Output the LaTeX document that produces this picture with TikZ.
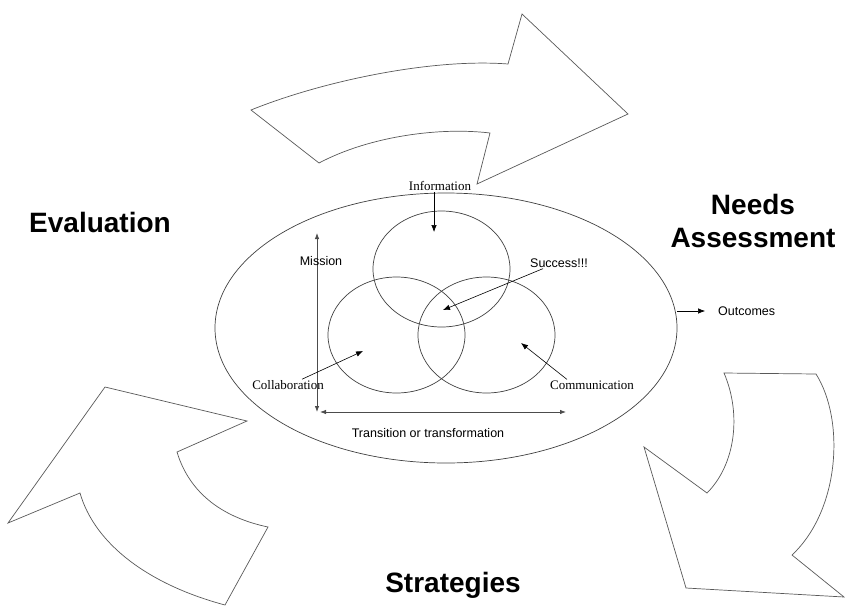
\documentclass[tikz,border=0pt]{standalone}
\usepackage{fontspec}
\setmainfont{Liberation Sans}
\newfontfamily\serifface{Liberation Serif}
\usetikzlibrary{arrows.meta, shapes.geometric}

\begin{document}
\begin{tikzpicture}[
    x=1pt, y=-1pt,
    bigarrow/.style={draw=black!65, line width=0.7pt, fill=white, line join=miter},
    ring/.style={ellipse, draw=black!75, line width=0.7pt, inner sep=0pt},
    venn/.style={ring, minimum width=137pt, minimum height=116pt},
    lbl/.style={font=\fontsize{12.5}{14}\selectfont, inner sep=1pt},
    slbl/.style={font=\serifface\fontsize{13}{15}\selectfont, inner sep=1pt},
    biglbl/.style={font=\bfseries\fontsize{28}{33}\selectfont, align=center},
    ptr/.style={-{Latex[length=7pt, width=5.5pt]}, line width=0.6pt},
    axis/.style={{Latex[length=6pt, width=4.5pt]}-{Latex[length=6pt, width=4.5pt]},
      draw=black!70, line width=0.8pt}
  ]
  \useasboundingbox (0,0) rectangle (845,608);

  % cycle arrows
  \draw[bigarrow] (251,110) .. controls (320,82) and (430,58) .. (508,64)
    -- (522,14) -- (628,114) -- (477,184) -- (490,133)
    .. controls (440,127) and (370,136) .. (319,163) -- cycle;
  \draw[bigarrow] (724,373) -- (816,374) .. controls (845,420) and (840,510) .. (792,555)
    -- (844,597) -- (686,588) -- (644,447) -- (707,493)
    .. controls (735,465) and (742,415) .. (724,373) -- cycle;
  \draw[bigarrow] (8,523) -- (105,387) -- (247,421) -- (177,452)
    .. controls (190,495) and (225,518) .. (268,527) -- (225,605)
    .. controls (150,585) and (95,545) .. (80,493) -- cycle;

  \node[biglbl] (evaluation) at (100,222) {Evaluation};
  \node[biglbl] (needs) at (753,221) {Needs\\Assessment};
  \node[biglbl] (strategies) at (453,585) {Strategies};

  % ellipse and venn circles
  \node[ring, minimum width=462pt, minimum height=270pt] (outer) at (446,328) {};
  \node[venn] (infoc) at (441.5,269) {};
  \node[venn] (collabc) at (396.5,335) {};
  \node[venn] (commc) at (486.5,335) {};

  % axes
  \coordinate (origin) at (317,412);
  \coordinate (ytop) at (317,233);
  \coordinate (xend) at (566,412);
  \draw[axis] (ytop) -- (origin);
  \draw[axis] ([xshift=3pt]origin) -- (xend);
  \node[lbl] (mission) at (321,261) {Mission};
  \node[lbl] (transition) at (428,433) {Transition or transformation};

  % labels and pointers
  \node[slbl] (info) at (440,186) {Information};
  \node[lbl] (success) at (559,263) {Success!!!};
  \node[slbl] (collab) at (288,385) {Collaboration};
  \node[slbl] (comm) at (592,385) {Communication};
  \node[lbl, anchor=west] (outcomes) at (717,311) {Outcomes};

  \coordinate (infotip) at (434,232);
  \coordinate (successtip) at (443,310);
  \coordinate (collabtip) at (363,351);
  \coordinate (commtip) at (521,343);

  \draw[ptr] (info.south -| infotip) -- (infotip);
  \draw[ptr] ([xshift=-16pt]success.south) -- (successtip);
  \draw[ptr] ([xshift=14pt]collab.north) -- (collabtip);
  \draw[ptr] ([xshift=-25pt]comm.north) -- (commtip);
  \draw[ptr] (outcomes.west -| outer.east) -- ([xshift=-12pt]outcomes.west);
\end{tikzpicture}
\end{document}
